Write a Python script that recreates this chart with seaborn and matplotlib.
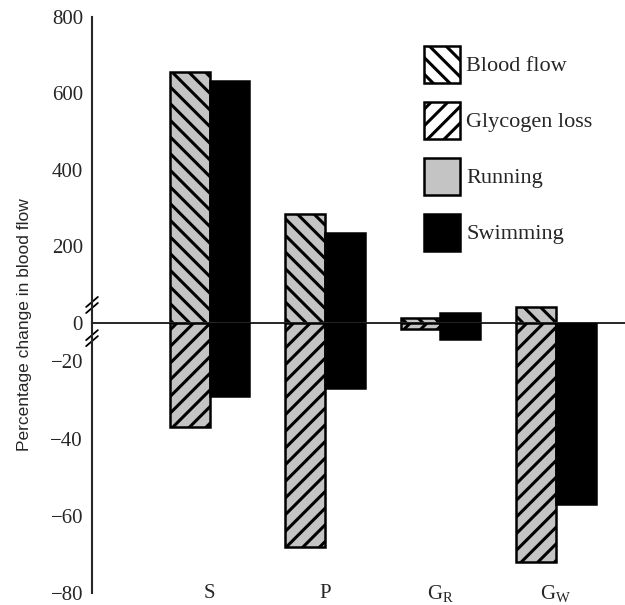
import numpy as np
import pandas as pd
import seaborn as sns
import matplotlib.pyplot as plt
from matplotlib.patches import Patch
from matplotlib.scale import FuncScale

sites = ['S', 'P', 'GR', 'GW']
site_labels = ['S', 'P', r'G$_{\mathregular{R}}$', r'G$_{\mathregular{W}}$']
exercises = ['Running', 'Swimming']

# percentage change in blood flow
flow_running = [655, 285, 13, 40]
flow_swimming = [632, 236, 25, 0]
# percentage glycogen loss
glyc_running = [-37, -68, -3.5, -72]
glyc_swimming = [-29, -27, -8.5, -57]

sns.set_style('white')
plt.rcParams['font.family'] = ['Liberation Serif', 'DejaVu Serif']
plt.rcParams['mathtext.fontset'] = 'custom'
plt.rcParams['mathtext.rm'] = 'Liberation Serif'
plt.rcParams['hatch.linewidth'] = 2.2
plt.rcParams['hatch.color'] = 'black'

flow = pd.DataFrame({'site': sites * 2,
                     'exercise': np.repeat(exercises, 4),
                     'value': flow_running + flow_swimming})
glyc = pd.DataFrame({'site': sites * 2,
                     'exercise': np.repeat(exercises, 4),
                     'value': glyc_running + glyc_swimming})

colors = {'Running': '#c4c4c4', 'Swimming': 'black'}

fig = plt.figure(figsize=(6.25, 6.05), dpi=100)
ax_top = fig.add_axes([0.1472, 0.4666, 0.8528, 0.5053])
ax_low = fig.add_axes([0.1472, 0.0193, 0.8528, 0.4473])

# lower axis is broken: 0..-20 squeezed into half a tick step
def fwd(v):
    v = np.asarray(v, dtype=float)
    return np.where(v < -20, v, v / 2 - 10)

def inv(y):
    y = np.asarray(y, dtype=float)
    return np.where(y < -20, y, 2 * (y + 10))

ax_low.set_yscale(FuncScale(ax_low, (fwd, inv)))

for ax, df, hatch in [(ax_top, flow, '\\\\'), (ax_low, glyc, '//')]:
    sns.barplot(data=df, x='site', y='value', hue='exercise', order=sites,
                hue_order=exercises, palette=colors, saturation=1, width=0.69,
                errorbar=None, edgecolor='black', linewidth=1.8, legend=False, ax=ax)
    for bar in ax.containers[0]:
        bar.set_hatch(hatch)
    ax.set_facecolor('none')
    ax.set_xlim(-1.02, 3.6)
    ax.set_xlabel('')
    ax.set_ylabel('')
    for s in ['top', 'right']:
        ax.spines[s].set_visible(False)
    ax.spines['left'].set_linewidth(1.5)
    ax.tick_params(axis='y', direction='in', length=6, width=1.3, pad=6.5,
                   labelsize=15)

ax_top.set_ylim(0, 800)
ax_top.set_yticks([0, 200, 400, 600, 800])
ax_top.spines['bottom'].set_linewidth(1.4)
ax_top.tick_params(axis='x', length=0, labelbottom=False)

ax_low.set_ylim(-80, 0)
ax_low.set_yticks([-20, -40, -60, -80])
ax_low.spines['bottom'].set_visible(False)
ax_low.set_xticks(range(4))
ax_low.set_xticklabels(site_labels)
ax_low.tick_params(axis='x', length=0, pad=-7, labelsize=15)

# break marks on the y axis
for ax, yc, dy in [(ax_top, 0.058, 0.0164), (ax_low, 0.943, 0.0185)]:
    for off in (-0.6 * dy, 0.6 * dy):
        ax.plot([-0.011, 0.011], [yc - dy + off, yc + dy + off], color='black',
                lw=1.3, transform=ax.transAxes, clip_on=False)

fig.text(25 / 625, 1 - 325 / 605, 'Percentage change in blood flow', rotation=90,
         ha='center', va='center', fontsize=12.5, family='Liberation Sans')

handles = [Patch(facecolor='white', edgecolor='black', hatch='\\\\', lw=1.8),
           Patch(facecolor='white', edgecolor='black', hatch='//', lw=1.8),
           Patch(facecolor='#c4c4c4', edgecolor='black', lw=1.8),
           Patch(facecolor='black', edgecolor='black', lw=1.8)]
fig.legend(handles, ['Blood flow', 'Glycogen loss', 'Running', 'Swimming'],
           loc='upper left', bbox_to_anchor=(424 / 625, 1 - 46 / 605),
           frameon=False, borderpad=0, borderaxespad=0, handlelength=1.6,
           handleheight=2.19, handletextpad=0.3, labelspacing=0.85, fontsize=16)

fig.savefig('out.png', dpi=100)
